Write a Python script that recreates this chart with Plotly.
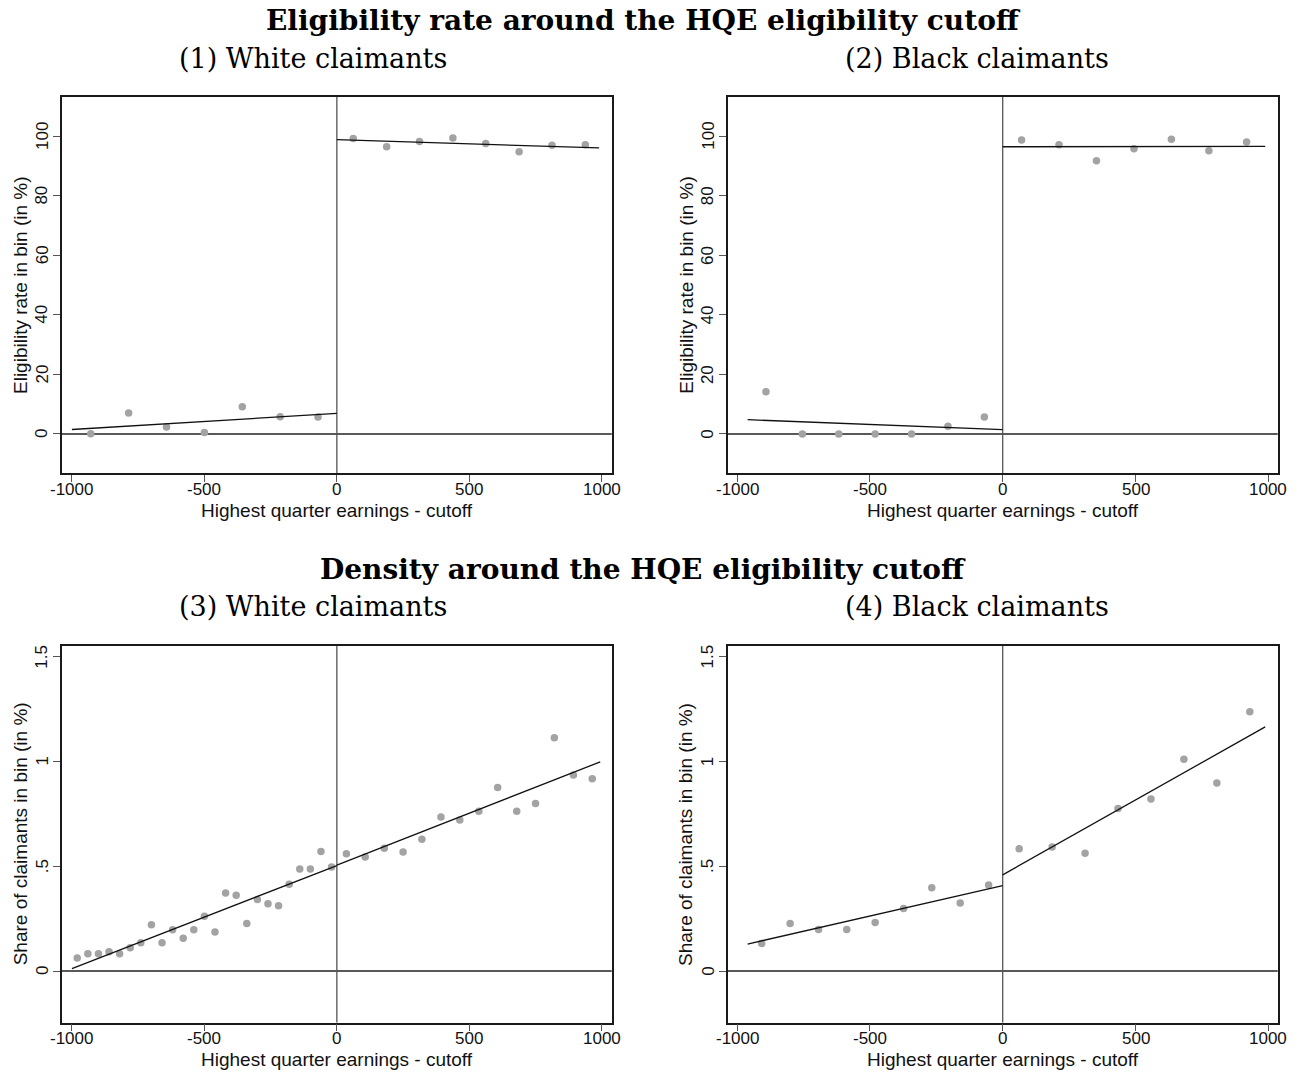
import plotly.graph_objects as go

# ---- Binned eligibility rate (in %) ----
white_elig_x_left = [-929, -786, -643, -500, -357, -214, -71]
white_elig_y_left = [0.1, 7.0, 2.3, 0.5, 9.1, 5.8, 5.7]
white_elig_x_right = [62, 188, 312, 438, 562, 688, 812, 938]
white_elig_y_right = [99.2, 96.4, 98.2, 99.3, 97.5, 94.7, 96.9, 97.1]

black_elig_x_left = [-891, -754, -617, -480, -343, -206, -69]
black_elig_y_left = [14.2, 0.0, 0.0, 0.0, 0.0, 2.6, 5.7]
black_elig_x_right = [71, 212, 353, 494, 635, 776, 918]
black_elig_y_right = [98.7, 97.1, 91.7, 95.7, 98.9, 95.1, 98.0]

# ---- Binned density (share of claimants in bin, in %) ----
white_dens_x_left = [-980, -940, -900, -860, -820, -780, -740, -700, -660, -620,
                     -580, -540, -500, -460, -420, -380, -340, -300, -260, -220,
                     -180, -140, -100, -60, -20]
white_dens_y_left = [0.062, 0.083, 0.083, 0.092, 0.083, 0.111, 0.135, 0.221, 0.135, 0.197,
                     0.156, 0.197, 0.262, 0.186, 0.373, 0.362, 0.227, 0.341, 0.321, 0.311,
                     0.414, 0.487, 0.487, 0.570, 0.497]
white_dens_x_right = [36, 107, 179, 250, 321, 393, 464, 536, 607, 679, 750, 821, 893, 964]
white_dens_y_right = [0.560, 0.544, 0.586, 0.568, 0.629, 0.735, 0.721, 0.763, 0.876, 0.763,
                      0.800, 1.113, 0.935, 0.917]

black_dens_x_left = [-907, -800, -693, -587, -480, -373, -267, -160, -53]
black_dens_y_left = [0.132, 0.227, 0.198, 0.198, 0.232, 0.298, 0.398, 0.325, 0.411]
black_dens_x_right = [62, 186, 310, 434, 558, 682, 806, 930]
black_dens_y_right = [0.583, 0.592, 0.562, 0.776, 0.821, 1.011, 0.897, 1.237]

# ---- Linear fits on each side of the cutoff (segment end points) ----
white_elig_fit_left = ([-1000, 0], [1.5, 6.9])
white_elig_fit_right = ([0, 990], [98.8, 96.0])
black_elig_fit_left = ([-960, 0], [4.8, 1.45])
black_elig_fit_right = ([0, 988], [96.4, 96.5])
white_dens_fit_left = ([-1000, 0], [0.012, 0.503])
white_dens_fit_right = ([0, 994], [0.505, 0.998])
black_dens_fit_left = ([-960, 0], [0.129, 0.408])
black_dens_fit_right = ([0, 988], [0.459, 1.165])

# ---- Axis ticks ----
x_ticks = [-1000, -500, 0, 500, 1000]
x_tick_labels = ["-1000", "-500", "0", "500", "1000"]
elig_ticks = [0, 20, 40, 60, 80, 100]
elig_tick_labels = ["0", "20", "40", "60", "80", "100"]
dens_ticks = [0, 0.5, 1, 1.5]
dens_tick_labels = ["0", ".5", "1", "1.5"]

W, H = 1304, 1072
DOT = "#a3a3a3"
SANS = "Liberation Sans, Arial, sans-serif"
SERIF = "DejaVu Serif, serif"
TICK_FONT = dict(family=SANS, size=17, color="#111111")
TITLE_FONT = dict(family=SANS, size=19, color="#111111")

# plot frames in pixels: (left, right, top, bottom)
frames = {
    1: (62.0, 611.7, 96.7, 473.3),
    2: (727.7, 1277.7, 96.7, 473.3),
    3: (62.0, 611.7, 646.0, 1022.6),
    4: (727.7, 1277.7, 646.0, 1022.6),
}
x_ranges = {1: [-1037.5, 1037.5], 2: [-1035, 1035], 3: [-1037.5, 1037.5], 4: [-1035, 1035]}
y_ranges = {1: [-13.2, 113.2], 2: [-13.2, 113.2], 3: [-0.246, 1.551], 4: [-0.246, 1.551]}

panels = {
    1: (white_elig_x_left, white_elig_y_left, white_elig_x_right, white_elig_y_right,
        white_elig_fit_left, white_elig_fit_right),
    2: (black_elig_x_left, black_elig_y_left, black_elig_x_right, black_elig_y_right,
        black_elig_fit_left, black_elig_fit_right),
    3: (white_dens_x_left, white_dens_y_left, white_dens_x_right, white_dens_y_right,
        white_dens_fit_left, white_dens_fit_right),
    4: (black_dens_x_left, black_dens_y_left, black_dens_x_right, black_dens_y_right,
        black_dens_fit_left, black_dens_fit_right),
}

fig = go.Figure()
layout = {}
shapes = []
annotations = []

for k, (xl, yl, xr, yr, fl, fr) in panels.items():
    xa = "x" if k == 1 else f"x{k}"
    ya = "y" if k == 1 else f"y{k}"
    left, right, top, bottom = frames[k]
    elig = k in (1, 2)
    yticks = elig_ticks if elig else dens_ticks
    ylabels = elig_tick_labels if elig else dens_tick_labels

    # reference lines at y = 0 and at the cutoff
    shapes.append(dict(type="line", xref=f"{xa} domain", yref=ya, x0=0, x1=1, y0=0, y1=0,
                       line=dict(color="#222222", width=1.6), layer="below"))
    shapes.append(dict(type="line", xref=xa, yref=f"{ya} domain", x0=0, x1=0, y0=0, y1=1,
                       line=dict(color="#555555", width=1.3), layer="below"))
    for xs, ys in ((xl, yl), (xr, yr)):
        fig.add_trace(go.Scatter(x=xs, y=ys, mode="markers", xaxis=xa, yaxis=ya,
                                 marker=dict(color=DOT, size=7.5, line=dict(width=0)),
                                 showlegend=False))
    for seg in (fl, fr):
        fig.add_trace(go.Scatter(x=seg[0], y=seg[1], mode="lines", xaxis=xa, yaxis=ya,
                                 line=dict(color="#111111", width=1.3), showlegend=False))

    axis_common = dict(showgrid=False, zeroline=False, showline=True, mirror=True,
                       linecolor="#1a1a1a", linewidth=1.5, ticks="outside", ticklen=7,
                       tickwidth=1.2, tickcolor="#555555", showticklabels=False)
    layout["xaxis" if k == 1 else f"xaxis{k}"] = dict(
        axis_common, domain=[left / W, right / W], range=x_ranges[k],
        tickvals=x_ticks, anchor=ya)
    layout["yaxis" if k == 1 else f"yaxis{k}"] = dict(
        axis_common, domain=[1 - bottom / H, 1 - top / H], range=y_ranges[k],
        tickvals=yticks, anchor=xa)

    # tick labels, placed at the tick values just outside the frame
    for v, lab in zip(x_ticks, x_tick_labels):
        annotations.append(dict(text=lab, xref=xa, yref="paper", x=v,
                                y=1 - (bottom + 16) / H, showarrow=False,
                                xanchor="center", yanchor="middle", font=TICK_FONT))
    for v, lab in zip(yticks, ylabels):
        annotations.append(dict(text=lab, xref="paper", yref=ya, x=(left - 20) / W, y=v,
                                textangle=-90, showarrow=False,
                                xanchor="center", yanchor="middle", font=TICK_FONT))

    # axis titles
    annotations.append(dict(text="Highest quarter earnings - cutoff", xref="paper", yref="paper",
                            x=(left + right) / 2 / W, y=1 - (bottom + 37) / H,
                            showarrow=False, xanchor="center", yanchor="middle",
                            font=TITLE_FONT))
    annotations.append(dict(text="Eligibility rate in bin (in %)" if elig
                            else "Share of claimants in bin (in %)",
                            xref="paper", yref="paper", x=(left - 42) / W,
                            y=1 - (top + bottom) / 2 / H, textangle=-90,
                            showarrow=False, xanchor="center", yanchor="middle",
                            font=TITLE_FONT))

# figure titles and panel subtitles
for text, yc in (("<b>Eligibility rate around the HQE eligibility cutoff</b>", 20),
                 ("<b>Density around the HQE eligibility cutoff</b>", 569)):
    annotations.append(dict(text=text, xref="paper", yref="paper", x=643 / W, y=1 - yc / H,
                            showarrow=False, xanchor="center", yanchor="middle",
                            font=dict(family=SERIF, size=28, color="black")))
for text, xc, yc in (("(1) White claimants", 313, 59), ("(2) Black claimants", 977, 59),
                     ("(3) White claimants", 313, 606), ("(4) Black claimants", 977, 606)):
    annotations.append(dict(text=text, xref="paper", yref="paper", x=xc / W, y=1 - yc / H,
                            showarrow=False, xanchor="center", yanchor="middle",
                            font=dict(family=SERIF, size=27, color="black")))

fig.update_layout(
    width=W, height=H, margin=dict(l=0, r=0, t=0, b=0),
    paper_bgcolor="white", plot_bgcolor="white",
    shapes=shapes, annotations=annotations, **layout)

fig.write_html("out.html")
